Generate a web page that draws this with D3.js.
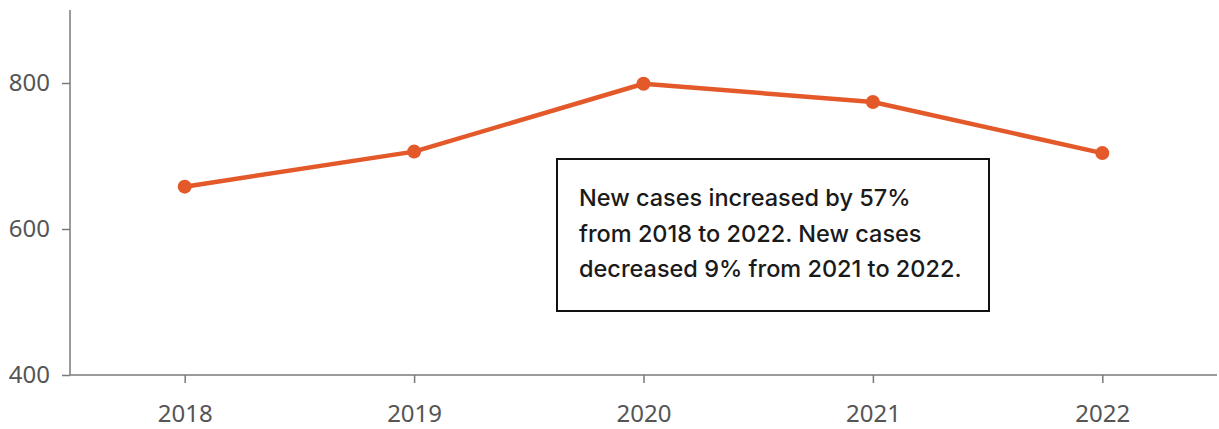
<!DOCTYPE html>
<html>
<head>
<meta charset="utf-8">
<script src="https://cdn.jsdelivr.net/npm/d3@7"></script>
<style>
  html, body { margin: 0; padding: 0; background: #fff; }
  svg { display: block; }
</style>
</head>
<body>
<svg id="chart" width="1219" height="429"></svg>
<script>
// Yearly new cases
const years = ["2018", "2019", "2020", "2021", "2022"];
const newCases = [658, 706, 799, 774, 704];
const yTicks = [400, 600, 800];
const noteLines = [
  "New cases increased by 57%",
  "from 2018 to 2022. New cases",
  "decreased 9% from 2021 to 2022."
];

const svg = d3.select("#chart");
const margin = { top: 10, right: 2, bottom: 54, left: 70 };
const W = 1219, H = 429;

const x = d3.scalePoint().domain(years).range([margin.left, W - margin.right]).padding(0.5);
const y = d3.scaleLinear().domain([400, 900]).range([H - margin.bottom, margin.top]);

const axisColor = "#7a7a7a";
const labelColor = "#555";
const lineColor = "#e4592a";

// x axis
const gx = svg.append("g")
  .attr("transform", `translate(0,${H - margin.bottom})`)
  .call(d3.axisBottom(x).tickSize(8).tickSizeOuter(0).tickPadding(22));
// y axis
const gy = svg.append("g")
  .attr("transform", `translate(${margin.left},0)`)
  .call(d3.axisLeft(y).tickValues(yTicks).tickSize(8).tickSizeOuter(0).tickPadding(12));

[gx, gy].forEach(g => {
  g.attr("font-size", null);
  g.select(".domain").attr("stroke", axisColor).attr("stroke-width", 1.5);
  g.selectAll(".tick line").attr("stroke", axisColor).attr("stroke-width", 1.5);
  g.selectAll(".tick text")
    .attr("fill", labelColor)
    .style("font-family", "'Noto Sans', 'DejaVu Sans', sans-serif")
    .style("font-size", "24px");
});
// y axis domain spans the full plot height
gy.select(".domain").attr("d", `M0,${y(900)}V${y(400)}`);
// x axis domain starts at the y axis and runs to the right edge
gx.select(".domain").attr("d", `M${margin.left},0H${W - margin.right}`);

// line
const line = d3.line()
  .x((d, i) => x(years[i]))
  .y(d => y(d));

svg.append("path")
  .datum(newCases)
  .attr("fill", "none")
  .attr("stroke", lineColor)
  .attr("stroke-width", 4.5)
  .attr("stroke-linejoin", "round")
  .attr("d", line);

svg.selectAll("circle.pt")
  .data(newCases)
  .enter().append("circle")
  .attr("class", "pt")
  .attr("cx", (d, i) => x(years[i]))
  .attr("cy", d => y(d))
  .attr("r", 7)
  .attr("fill", lineColor);

// annotation box
const note = svg.append("g").attr("transform", "translate(557,159)");
note.append("rect")
  .attr("width", 432).attr("height", 152)
  .attr("fill", "#fff")
  .attr("stroke", "#111")
  .attr("stroke-width", 2);
note.selectAll("text")
  .data(noteLines)
  .enter().append("text")
  .attr("x", 22)
  .attr("y", (d, i) => 47 + i * 35.5)
  .attr("fill", "#1a1a1a")
  .style("font-family", "Inter, 'Open Sans', sans-serif")
  .style("font-size", "23.5px")
  .style("font-weight", 500)
  .text(d => d);
</script>
</body>
</html>
